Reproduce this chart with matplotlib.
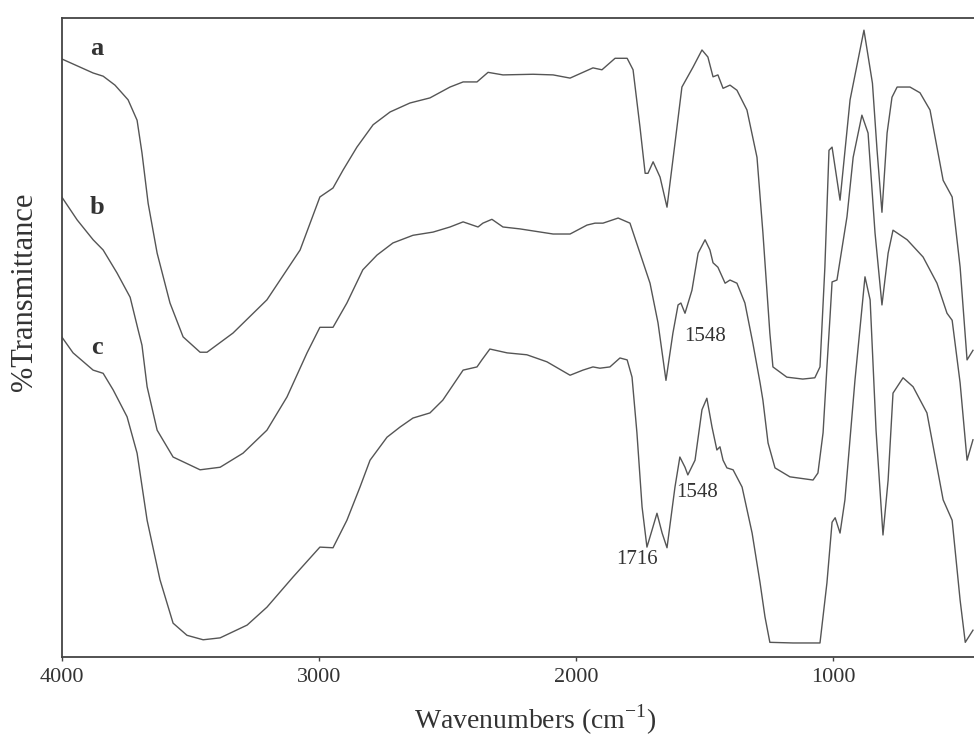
import numpy as np
import matplotlib
matplotlib.use('Agg')
import matplotlib.pyplot as plt

# FTIR spectra (wavenumber in cm-1, transmittance in arbitrary %).
wn_a = [4000, 3878, 3839, 3793, 3742, 3707, 3688, 3664, 3629, 3579, 3528, 3462, 3435,
        3334, 3202, 3073, 2996, 2945, 2906, 2852, 2789, 2723, 2646, 2568, 2490, 2439,
        2385, 2342, 2284, 2167, 2089, 2023, 1934, 1899, 1848, 1801, 1778, 1751, 1731,
        1720, 1700, 1673, 1646, 1615, 1588, 1545, 1510, 1487, 1467, 1448, 1428, 1401,
        1374, 1335, 1296, 1273, 1246, 1234, 1180, 1118, 1071, 1051, 1032, 1016, 1004,
        973, 934, 880, 847, 829, 810, 790, 771, 751, 701, 662, 623, 572, 537, 506, 479, 456]
tr_a = [93.6, 91.4, 90.9, 89.5, 87.2, 84.0, 78.9, 71.0, 63.2, 55.4, 50.1, 47.7, 47.7,
        50.7, 55.9, 63.7, 72.0, 73.4, 76.2, 79.8, 83.3, 85.3, 86.7, 87.5, 89.2, 90.0,
        90.0, 91.5, 91.1, 91.2, 91.1, 90.6, 92.2, 91.9, 93.7, 93.7, 91.9, 82.9, 75.7,
        75.7, 77.5, 75.1, 70.4, 80.4, 89.2, 92.3, 95.0, 93.9, 90.8, 91.1, 89.0, 89.5,
        88.7, 85.6, 78.2, 66.4, 50.7, 45.4, 43.8, 43.5, 43.7, 45.4, 61.0, 79.3, 79.8,
        71.5, 87.2, 98.1, 89.8, 79.3, 69.6, 82.0, 87.6, 89.2, 89.2, 88.3, 85.6, 74.6,
        72.0, 61.0, 46.5, 48.0]

wn_b = [4000, 3940, 3878, 3839, 3785, 3734, 3703, 3688, 3668, 3629, 3567, 3462, 3384,
        3295, 3202, 3124, 3046, 2996, 2945, 2891, 2829, 2774, 2712, 2634, 2556, 2490,
        2439, 2381, 2362, 2327, 2284, 2218, 2089, 2023, 1957, 1926, 1895, 1836, 1790,
        1751, 1712, 1681, 1650, 1623, 1603, 1592, 1576, 1549, 1525, 1498, 1479, 1467,
        1448, 1420, 1401, 1374, 1343, 1312, 1284, 1273, 1253, 1226, 1168, 1078, 1059,
        1039, 1024, 1012, 1004, 985, 946, 922, 888, 864, 837, 810, 786, 767, 712, 650,
        596, 557, 537, 506, 479, 456]
tr_b = [72.0, 68.4, 65.3, 63.7, 60.1, 56.3, 51.2, 48.8, 42.3, 35.5, 31.3, 29.3, 29.7,
        31.9, 35.5, 40.7, 47.6, 51.6, 51.6, 55.4, 60.6, 62.9, 64.8, 66.0, 66.5, 67.3,
        68.1, 67.3, 67.9, 68.5, 67.3, 67.0, 66.2, 66.2, 67.6, 67.9, 67.9, 68.7, 67.9,
        63.2, 58.5, 52.3, 43.3, 50.7, 55.1, 55.4, 53.8, 57.4, 63.2, 65.3, 63.7, 61.7,
        61.0, 58.5, 59.0, 58.5, 55.4, 49.1, 42.9, 40.2, 33.5, 29.6, 28.2, 27.7, 28.8,
        35.1, 45.4, 53.2, 58.7, 59.0, 68.9, 78.2, 84.8, 82.0, 66.4, 55.1, 63.2, 66.8,
        65.3, 62.6, 58.5, 53.8, 52.7, 42.9, 30.8, 34.0]

wn_c = [4000, 3956, 3878, 3839, 3800, 3746, 3707, 3668, 3618, 3567, 3513, 3450, 3384,
        3279, 3202, 3101, 2996, 2945, 2891, 2840, 2801, 2735, 2684, 2634, 2568, 2518,
        2439, 2385, 2366, 2335, 2268, 2191, 2113, 2023, 1973, 1934, 1907, 1868, 1829,
        1801, 1782, 1763, 1743, 1724, 1704, 1685, 1665, 1646, 1615, 1596, 1576, 1565,
        1537, 1510, 1491, 1471, 1452, 1440, 1428, 1413, 1389, 1354, 1315, 1284, 1265,
        1246, 1156, 1051, 1024, 1004, 992, 973, 954, 915, 876, 856, 833, 806, 786, 767,
        728, 689, 635, 572, 537, 506, 486, 456]
tr_c = [50.1, 47.6, 44.9, 44.4, 41.8, 37.6, 31.9, 21.4, 12.1, 5.3, 3.4, 2.7, 3.0,
        5.0, 7.8, 12.5, 17.2, 17.1, 21.4, 26.6, 30.8, 34.4, 36.0, 37.4, 38.2, 40.2,
        44.9, 45.4, 46.5, 48.2, 47.6, 47.3, 46.2, 44.1, 44.9, 45.4, 45.2, 45.4, 46.8,
        46.5, 43.8, 35.1, 23.5, 17.2, 19.9, 22.5, 19.4, 17.1, 26.6, 31.3, 29.7, 28.5,
        30.8, 38.7, 40.5, 36.0, 32.4, 32.9, 30.8, 29.6, 29.3, 26.6, 19.4, 11.6, 6.3,
        2.3, 2.2, 2.2, 11.6, 21.1, 21.8, 19.4, 24.6, 43.3, 59.5, 55.9, 35.5, 19.1, 27.7,
        41.3, 43.7, 42.3, 38.2, 24.6, 21.4, 8.9, 2.3, 4.2]

x_ticks = [4000, 3000, 2000, 1000]
curve_names = ['a', 'b', 'c']

plt.rcParams['font.family'] = ['Liberation Serif', 'DejaVu Serif']

fig = plt.figure(figsize=(9.74, 7.36), dpi=100)
ax = fig.add_axes([0.0634, 0.1073, 0.9366, 0.8682])

line_color = '#555555'
text_color = '#333333'

for wn, tr in zip([wn_a, wn_b, wn_c], [tr_a, tr_b, tr_c]):
    ax.plot(wn, tr, color=line_color, linewidth=1.0)

ax.set_xlim(4000, 452)
ax.set_ylim(0, 100)

# Curve labels.
for name, (xx, yy) in zip(curve_names, [(3863, 95.3), (3863, 70.3), (3863, 48.4)]):
    ax.text(xx, yy, name, fontsize=19, fontweight='bold', color=text_color,
            ha='center', va='center')

# Peak annotations.
ax.text(1498, 50.2, '1548', fontsize=15, color=text_color, ha='center', va='center')
ax.text(1529, 25.8, '1548', fontsize=15, color=text_color, ha='center', va='center')
ax.text(1762, 15.2, '1716', fontsize=15, color=text_color, ha='center', va='center')

ax.set_xticks(x_ticks)
ax.set_xticklabels([str(t) for t in x_ticks])
ax.set_yticks([])
ax.tick_params(axis='x', direction='out', length=3, width=1, colors='#444444',
               labelcolor=text_color, labelsize=16, pad=5)
ax.spines['right'].set_visible(False)
for s in ['left', 'top', 'bottom']:
    ax.spines[s].set_color('#444444')
    ax.spines[s].set_linewidth(1.3)

# Axis titles placed like the original scan.
fig.text(535 / 974, 1 - 729 / 736, 'Wavenumbers (cm$^{\\mathregular{-1}}$)', fontsize=20,
         color=text_color, ha='center', va='baseline')
fig.text(25 / 974, 1 - 292 / 736, '%Transmittance', fontsize=22, color=text_color,
         rotation=90, ha='center', va='center')

fig.savefig('out.png', dpi=100)
